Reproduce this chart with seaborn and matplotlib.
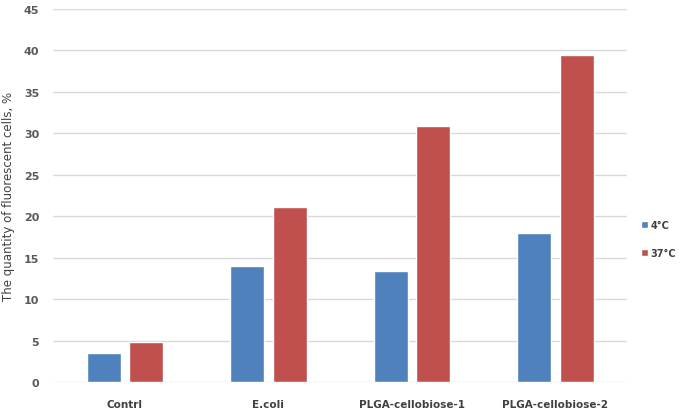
import matplotlib
matplotlib.use("Agg")
import matplotlib.pyplot as plt
import seaborn as sns
import pandas as pd

categories = ["Contrl", "E.coli", "PLGA-cellobiose-1", "PLGA-cellobiose-2"]
temps = ["4°C", "37°C"]
vals_4c = [3.45, 13.95, 13.4, 18.0]
vals_37c = [4.85, 21.05, 30.85, 39.45]
yticks = [0, 5, 10, 15, 20, 25, 30, 35, 40, 45]

df = pd.DataFrame({
    "cat": categories * 2,
    "temp": [temps[0]] * 4 + [temps[1]] * 4,
    "val": vals_4c + vals_37c,
})

sns.set_theme(style="white")
plt.rcParams["font.family"] = ["DejaVu Sans"]

fig = plt.figure(figsize=(6.81, 4.14), dpi=100)
ax = fig.add_axes([0.078, 0.075, 0.843, 0.901])

sns.barplot(data=df, x="cat", y="val", hue="temp", hue_order=temps,
            palette=["#4F81BD", "#C0504D"], width=0.59, gap=0.2,
            errorbar=None, ax=ax, zorder=3, saturation=1)

ax.set_ylim(0, 45)
ax.set_yticks(yticks)
ax.set_yticklabels([str(t) for t in yticks], fontsize=8, fontweight="bold", color="#595959")
ax.set_xlim(-0.5, 3.5)
for lab in ax.get_xticklabels():
    lab.set_fontsize(7.5)
    lab.set_fontweight("bold")
    lab.set_color("#404040")
ax.set_xlabel("")
ax.set_ylabel("The quantity of fluorescent cells, %", fontsize=8.5, color="#404040", labelpad=6)
ax.grid(axis="y", color="#D9D9D9", linewidth=1, zorder=0)
ax.set_axisbelow(True)
for s in ax.spines.values():
    s.set_visible(False)
ax.tick_params(axis="x", length=0, pad=12)
ax.tick_params(axis="y", length=0, pad=10)

leg = ax.legend(loc="upper left", bbox_to_anchor=(0.928, 0.488), bbox_transform=fig.transFigure,
                frameon=False, handlelength=0.7, handleheight=0.7, handletextpad=0.3,
                labelspacing=1.9, prop={"size": 7, "weight": "bold"})
for t in leg.get_texts():
    t.set_color("#404040")

fig.savefig("out.png", dpi=100)
